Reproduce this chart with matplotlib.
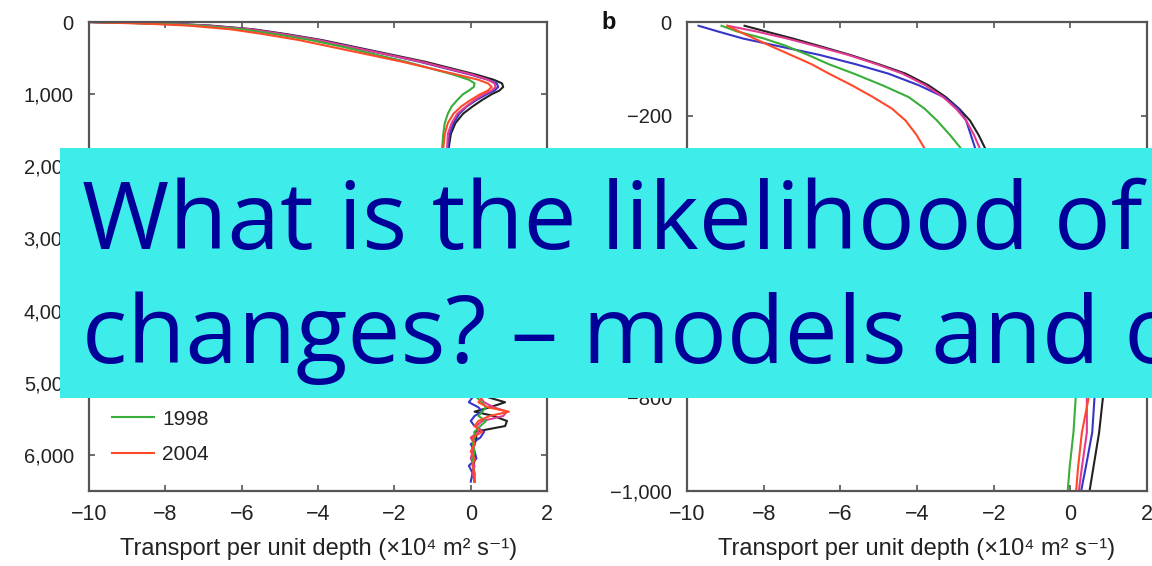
import matplotlib
matplotlib.use("Agg")
import matplotlib.pyplot as plt
from matplotlib.patches import Rectangle
from matplotlib.ticker import FuncFormatter

YEARS = ['1957', '1981', '1992', '1998', '2004']
COLORS = ['#222222', '#3535c8', '#e23a92', '#3aae3a', '#ff4a2a']

# panel a: full water column, depth (m) downwards
depth_a = [0, 10, 25, 50, 100, 170, 250, 350, 450, 550, 650, 730, 800, 850, 900,
           950, 1000, 1080, 1170, 1270, 1400, 1550, 1750,
           2200, 2800, 3500, 4200, 4800,
           5200, 5270, 5340, 5400, 5460, 5530, 5600, 5680, 5760, 5850, 5950,
           6050, 6150, 6250, 6370]
t1957_a = [-10, -9.0, -7.8, -6.8, -5.7, -4.8, -3.9, -3.0, -2.1, -1.2, -0.45, 0.15, 0.6, 0.82, 0.85,
           0.75, 0.55, 0.3, 0.05, -0.2, -0.4, -0.52, -0.58,
           -0.62, -0.55, -0.45, -0.3, -0.05,
           0.45, 0.9, 0.5, 0.1, 0.6, 0.95, 0.9, 0.1, 0.15, 0.1, 0.05,
           0.1, 0.08, 0.05, 0.1]
t1981_a = [-10, -9.1, -7.9, -6.9, -5.8, -4.9, -4.0, -3.1, -2.2, -1.35, -0.6, 0.0, 0.45, 0.68, 0.72,
           0.62, 0.42, 0.15, -0.1, -0.3, -0.45, -0.55, -0.6,
           -0.65, -0.6, -0.5, -0.35, -0.1,
           0.05, -0.05, 0.2, 0.3, 0.1, 0.0, 0.1, 0.35, 0.25, 0.0, 0.1,
           0.15, -0.05, 0.05, 0.0]
t1992_a = [-10, -9.0, -7.9, -6.9, -5.8, -4.9, -4.0, -3.1, -2.2, -1.3, -0.55, 0.05, 0.45, 0.62, 0.65,
           0.55, 0.35, 0.1, -0.12, -0.35, -0.5, -0.6, -0.62,
           -0.66, -0.6, -0.48, -0.32, -0.08,
           0.25, 0.35, 0.6, 0.95, 0.85, 0.3, 0.15, 0.2, 0.0, 0.1, 0.05,
           0.0, 0.1, 0.05, 0.1]
t1998_a = [-10, -9.2, -8.1, -7.1, -6.0, -5.1, -4.2, -3.3, -2.5, -1.7, -1.0, -0.45, -0.05, 0.1, 0.08,
           -0.05, -0.2, -0.35, -0.5, -0.6, -0.68, -0.72, -0.75,
           -0.72, -0.65, -0.52, -0.35, -0.1,
           0.15, 0.3, 0.4, 0.3, 0.2, 0.4, 0.25, 0.1, 0.1, 0.05, 0.1,
           0.05, 0.05, 0.1, 0.1]
t2004_a = [-10, -9.4, -8.4, -7.4, -6.3, -5.4, -4.5, -3.6, -2.7, -1.8, -1.0, -0.35, 0.2, 0.45, 0.55,
           0.45, 0.25, 0.0, -0.25, -0.45, -0.6, -0.68, -0.72,
           -0.7, -0.62, -0.5, -0.34, -0.1,
           0.3, 0.2, 0.45, 1.0, 0.5, 0.2, 0.1, 0.3, 0.05, 0.1, 0.0,
           0.1, 0.05, 0.1, 0.1]

# panel b: upper 1,000 m
depth_b = [-8, -20, -35, -50, -70, -90, -110, -135, -160, -185, -210, -240, -270,
           -350, -450, -550, -650, -750, -800, -875, -950, -1000]
t1957_b = [-8.5, -7.95, -7.25, -6.6, -5.75, -5.0, -4.3, -3.7, -3.25, -2.9, -2.62, -2.4, -2.22,
           -1.75, -1.2, -0.6, 0.0, 0.6, 0.85, 0.75, 0.6, 0.5]
t1981_b = [-9.7, -9.2, -8.55, -7.7, -6.55, -5.6, -4.75, -3.95, -3.3, -2.92, -2.72, -2.6, -2.48,
           -1.95, -1.3, -0.7, -0.1, 0.45, 0.63, 0.57, 0.4, 0.28]
t1992_b = [-8.94, -8.2, -7.4, -6.7, -5.8, -5.05, -4.38, -3.78, -3.32, -2.98, -2.72, -2.52, -2.36,
           -1.9, -1.35, -0.8, -0.25, 0.25, 0.43, 0.43, 0.3, 0.22]
t1998_b = [-9.1, -8.7, -8.0, -7.45, -6.85, -6.3, -5.65, -4.9, -4.22, -3.8, -3.48, -3.15, -2.85,
           -2.1, -1.4, -0.8, -0.35, 0.05, 0.14, 0.08, -0.02, -0.07]
t2004_b = [-8.95, -8.65, -8.25, -7.85, -7.3, -6.75, -6.3, -5.7, -5.15, -4.65, -4.3, -4.02, -3.8,
           -3.0, -2.0, -1.1, -0.4, 0.25, 0.48, 0.3, 0.2, 0.15]

XTICKS = [-10, -8, -6, -4, -2, 0, 2]
XLABEL = 'Transport per unit depth (×10⁴ m² s⁻¹)'
TITLE_LINES = ['What is the likelihood of', 'changes? – models and o']

plt.rcParams['font.family'] = ['Liberation Sans', 'DejaVu Sans']

fig = plt.figure(figsize=(11.52, 5.66), dpi=100)
ax_a = fig.add_axes([0.0773, 0.1325, 0.3976, 0.8286])
ax_b = fig.add_axes([0.5964, 0.1325, 0.3993, 0.8286])

comma = FuncFormatter(lambda v, p: '{:,.0f}'.format(v).replace('-', '\u2212'))

for ax in (ax_a, ax_b):
    for s in ax.spines.values():
        s.set_color('#555555')
        s.set_linewidth(1.6)
    ax.set_xlim(-10, 2)
    ax.set_xticks(XTICKS)
    ax.tick_params(direction='in', length=4, width=1.2, color='#555555',
                   top=True, right=True, labelcolor='#222222')
    ax.tick_params(axis='x', pad=9, labelsize=15.5)
    ax.tick_params(axis='y', pad=11, labelsize=14.5)
    ax.yaxis.set_major_formatter(comma)
    ax.set_xlabel(XLABEL, fontsize=17, color='#222222', labelpad=10)

series_a = [t1957_a, t1981_a, t1992_a, t1998_a, t2004_a]
for yr, col, vals in zip(YEARS, COLORS, series_a):
    ax_a.plot(vals, depth_a, color=col, lw=1.5, label=yr)
ax_a.set_ylim(6500, 0)
ax_a.set_yticks([0, 1000, 2000, 3000, 4000, 5000, 6000])
ax_a.legend(loc='lower left', bbox_to_anchor=(0.05, 0.058), frameon=False,
            fontsize=15, borderpad=0, borderaxespad=0, handlelength=2.0,
            handletextpad=0.4, labelspacing=0.78, labelcolor='#222222')

series_b = [t1957_b, t1981_b, t1992_b, t1998_b, t2004_b]
for yr, col, vals in zip(YEARS, COLORS, series_b):
    ax_b.plot(vals, depth_b, color=col, lw=1.5)
ax_b.set_ylim(-1000, 0)
ax_b.set_yticks([0, -200, -400, -600, -800, -1000])

fig.text(0.5285, 0.961, 'b', fontsize=17, fontweight='bold', color='#111111',
         ha='center', va='center')

# banner across the middle of both panels
fig.add_artist(Rectangle((0.052, 0.2968), 0.96, 0.4417, transform=fig.transFigure,
                         facecolor='#3eedea', edgecolor='none', zorder=10))
fig.text(0.0712, 1 - 249 / 566, TITLE_LINES[0], fontsize=68, family='Open Sans',
         color='#000099', va='baseline', ha='left', zorder=11)
fig.text(0.0712, 1 - 363 / 566, TITLE_LINES[1], fontsize=68, family='Open Sans',
         color='#000099', va='baseline', ha='left', zorder=11)

fig.savefig('out.png', dpi=100)
